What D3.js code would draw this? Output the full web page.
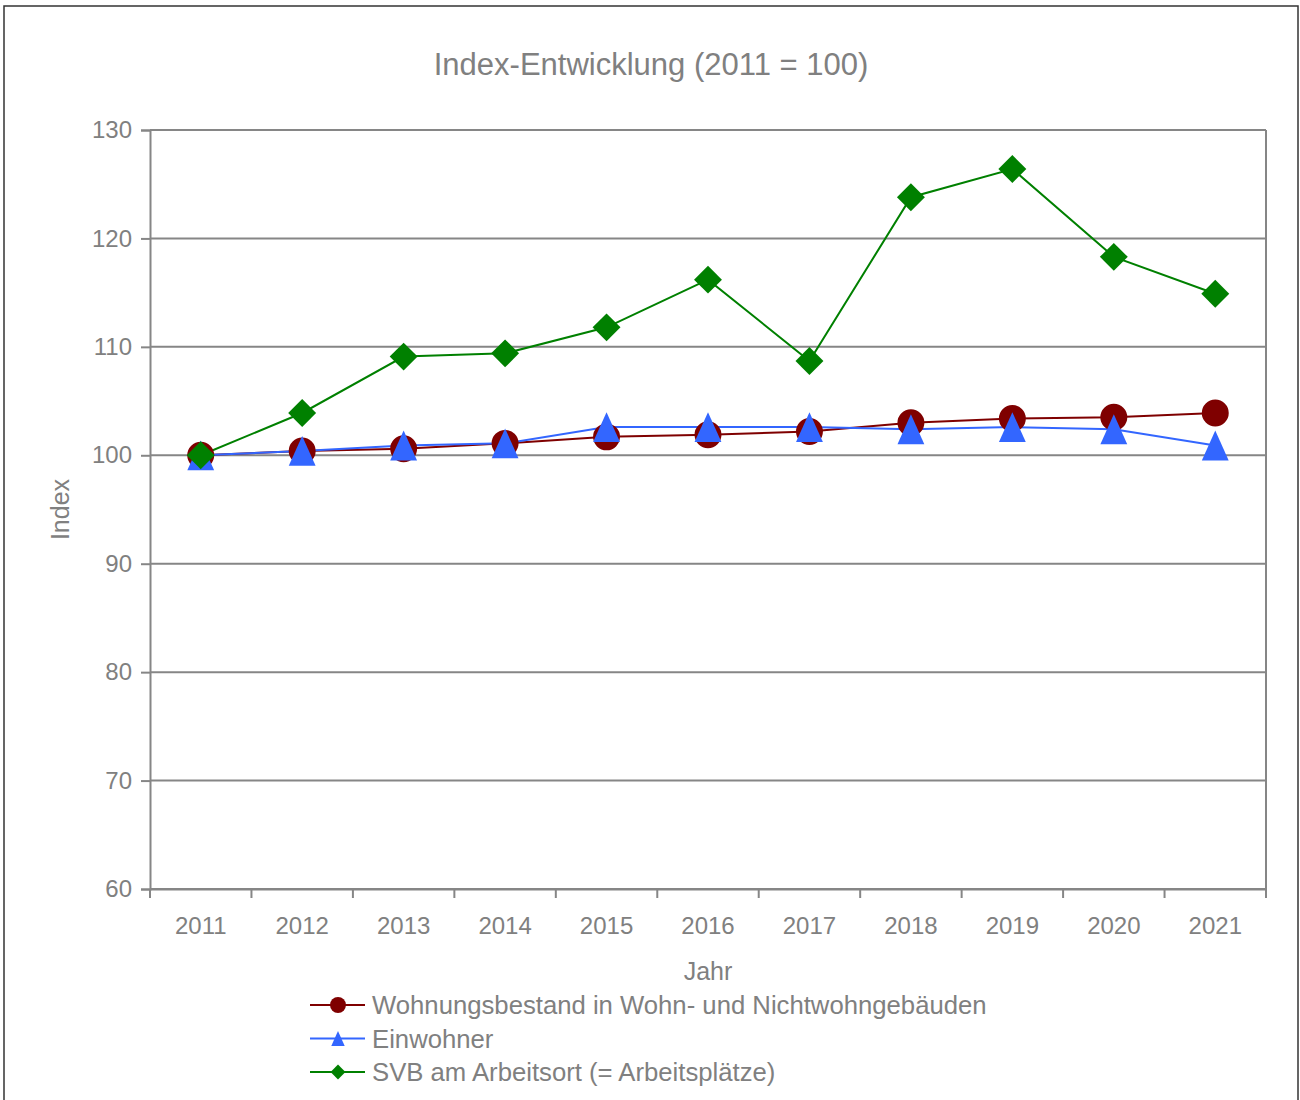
<!DOCTYPE html>
<html>
<head>
<meta charset="utf-8">
<script src="https://cdn.jsdelivr.net/npm/d3@7"></script>
<style>
    body { margin: 0; background: #fff; }
    text { font-family: "Liberation Sans", Arial, sans-serif; fill: #808080; }
</style>
</head>
<body>
<svg></svg>
<script>

var width = 1300;
var height = 1100;

// data
var years = ['2011', '2012', '2013', '2014', '2015', '2016', '2017', '2018', '2019', '2020', '2021'];
var wohnungen = [100, 100.4, 100.6, 101.1, 101.7, 101.9, 102.2, 103.0, 103.4, 103.5, 103.9];
var einwohner = [100, 100.4, 100.9, 101.1, 102.6, 102.6, 102.6, 102.4, 102.6, 102.4, 100.9];
var svb = [100, 103.9, 109.1, 109.4, 111.8, 116.2, 108.7, 123.8, 126.4, 118.3, 114.9];
var yTicks = [60, 70, 80, 90, 100, 110, 120, 130];
var seriesNames = ['Wohnungsbestand in Wohn- und Nichtwohngebäuden', 'Einwohner', 'SVB am Arbeitsort (= Arbeitsplätze)'];

// excel-like triangle: box centred on the point, a bit taller than wide
var symbolTri = {
    draw: function (context, size) {
        var h = Math.sqrt(size * 2 / 0.9);
        var w = h * 0.9;
        context.moveTo(0, -h / 2);
        context.lineTo(w / 2, h / 2);
        context.lineTo(-w / 2, h / 2);
        context.closePath();
    }
};

var series = [
    { name: seriesNames[0], values: wohnungen, color: '#7f0000', symbol: d3.symbolCircle, size: 570, rot: 0, legendSize: 200 },
    { name: seriesNames[1], values: einwohner, color: '#3366ff', symbol: symbolTri, size: 400, rot: 0, legendSize: 100 },
    { name: seriesNames[2], values: svb, color: '#008000', symbol: d3.symbolSquare, size: 390, rot: 45, legendSize: 110 }
];

var svg = d3.select('svg')
    .attr('width', width)
    .attr('height', height);

// outer frame
svg.append('rect')
    .attr('x', 4).attr('y', 6)
    .attr('width', 1294).attr('height', 1100)
    .attr('fill', 'none')
    .attr('stroke', '#333')
    .attr('stroke-width', 1.5);

var plotLeft = 150, plotRight = 1266, plotTop = 130, plotBottom = 889;

var x = d3.scaleBand()
    .domain(years)
    .range([plotLeft, plotRight]);

var y = d3.scaleLinear()
    .domain([60, 130])
    .range([plotBottom, plotTop]);

//..................................................................................//
// grid
svg.append('g')
    .selectAll('line')
    .data(yTicks)
    .enter()
    .append('line')
    .attr('x1', plotLeft).attr('x2', plotRight)
    .attr('y1', function (d) { return y(d); })
    .attr('y2', function (d) { return y(d); })
    .attr('stroke', '#868686')
    .attr('stroke-width', 2);

// right border of plot area
svg.append('line')
    .attr('x1', plotRight).attr('x2', plotRight)
    .attr('y1', plotTop).attr('y2', plotBottom)
    .attr('stroke', '#868686')
    .attr('stroke-width', 2);

// axes
var yAxis = d3.axisLeft(y).tickValues(yTicks).tickSize(9).tickPadding(9);
var gy = svg.append('g')
    .attr('transform', 'translate(' + plotLeft + ',0)')
    .call(yAxis);

var xAxis = d3.axisBottom(x).tickSize(0).tickPadding(28);
var gx = svg.append('g')
    .attr('transform', 'translate(0,' + plotBottom + ')')
    .call(xAxis);

// x tick marks between categories
svg.append('g')
    .selectAll('line')
    .data(d3.range(years.length + 1))
    .enter()
    .append('line')
    .attr('x1', function (i) { return plotLeft + i * x.step(); })
    .attr('x2', function (i) { return plotLeft + i * x.step(); })
    .attr('y1', plotBottom).attr('y2', plotBottom + 9)
    .attr('stroke', '#868686')
    .attr('stroke-width', 2);

[gx, gy].forEach(function (g) {
    g.selectAll('.domain').attr('stroke', '#868686').attr('stroke-width', 2);
    g.selectAll('.tick line').attr('stroke', '#868686').attr('stroke-width', 2);
    g.selectAll('.tick text')
        .attr('fill', '#808080')
        .style('font-family', '"Liberation Sans", Arial, sans-serif')
        .style('font-size', '24px');
});

//..................................................................................//
// lines and markers
var cx = function (i) { return x(years[i]) + x.bandwidth() / 2; };

var line = d3.line()
    .x(function (d, i) { return cx(i); })
    .y(function (d) { return y(d); });

series.forEach(function (s) {
    svg.append('path')
        .datum(s.values)
        .attr('d', line)
        .attr('fill', 'none')
        .attr('stroke', s.color)
        .attr('stroke-width', 2);
});

series.forEach(function (s) {
    svg.append('g')
        .selectAll('path')
        .data(s.values)
        .enter()
        .append('path')
        .attr('d', d3.symbol().type(s.symbol).size(s.size))
        .attr('transform', function (d, i) {
            return 'translate(' + cx(i) + ',' + y(d) + ') rotate(' + s.rot + ')';
        })
        .attr('fill', s.color);
});

//..................................................................................//
// titles
svg.append('text')
    .attr('x', 651).attr('y', 75)
    .attr('text-anchor', 'middle')
    .style('font-size', '31px')
    .text('Index-Entwicklung (2011 = 100)');

svg.append('text')
    .attr('transform', 'translate(69,' + ((plotTop + plotBottom) / 2) + ') rotate(-90)')
    .attr('text-anchor', 'middle')
    .style('font-size', '25px')
    .text('Index');

svg.append('text')
    .attr('x', (plotLeft + plotRight) / 2).attr('y', 980)
    .attr('text-anchor', 'middle')
    .style('font-size', '25px')
    .text('Jahr');

// legend
var legend = svg.append('g')
    .selectAll('g')
    .data(series)
    .enter()
    .append('g')
    .attr('transform', function (d, i) { return 'translate(310,' + (1005 + i * 33.5) + ')'; });

legend.append('line')
    .attr('x1', 0).attr('x2', 55)
    .attr('stroke', function (d) { return d.color; })
    .attr('stroke-width', 2);

legend.append('path')
    .attr('d', function (d) { return d3.symbol().type(d.symbol).size(d.legendSize)(); })
    .attr('transform', function (d) { return 'translate(28,0) rotate(' + d.rot + ')'; })
    .attr('fill', function (d) { return d.color; });

legend.append('text')
    .attr('x', 62).attr('y', 9)
    .style('font-size', '25.7px')
    .text(function (d) { return d.name; });

</script>
</body>
</html>
